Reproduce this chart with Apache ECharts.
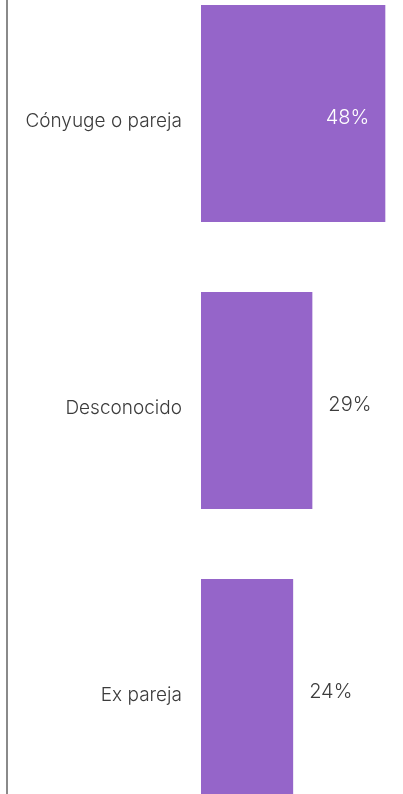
<!DOCTYPE html>
<html>
<head>
<meta charset="utf-8">
<script src="https://cdn.jsdelivr.net/npm/echarts@6/dist/echarts.min.js"></script>
<style>
html,body{margin:0;padding:0;background:#fff;}
#chart{width:403px;height:794px;}
</style>
</head>
<body>
<div id="chart"></div>
<script>
var categories = ['Cónyuge o pareja', 'Desconocido', 'Ex pareja'];
var values = [48, 29, 24];

var chart = echarts.init(document.getElementById('chart'));
var FONT = 'Inter';
var data = values.map(function (v) {
  var inside = v > 40;
  return {
    value: v,
    label: inside ? { position: 'insideRight', distance: 16, color: '#ffffff' }
                  : { position: 'right', distance: 16, color: '#3c3c3c' }
  };
});
chart.setOption({
  animation: false,
  grid: { left: 201, right: 10, top: -30, height: 861, outerBoundsMode: 'none', containLabel: false },
  xAxis: {
    type: 'value', min: 0, max: 50, show: false
  },
  yAxis: {
    type: 'category', data: categories, inverse: true,
    axisLine: { show: false }, axisTick: { show: false },
    axisLabel: {
      margin: 19, fontFamily: FONT, fontWeight: 300, fontSize: 19, color: '#3c3c3c',
      verticalAlign: 'top', lineHeight: 16
    }
  },
  graphic: [{
    type: 'line', shape: { x1: 7, y1: 0, x2: 7, y2: 794 },
    style: { stroke: '#8a8a8a', lineWidth: 2 }
  }],
  series: [{
    type: 'bar', data: data, barWidth: 217,
    itemStyle: { color: '#9565C9' },
    label: {
      show: true, formatter: '{c}%', fontFamily: FONT, fontWeight: 300, fontSize: 20,
      offset: [0, 4]
    }
  }]
});
</script>
</body>
</html>
